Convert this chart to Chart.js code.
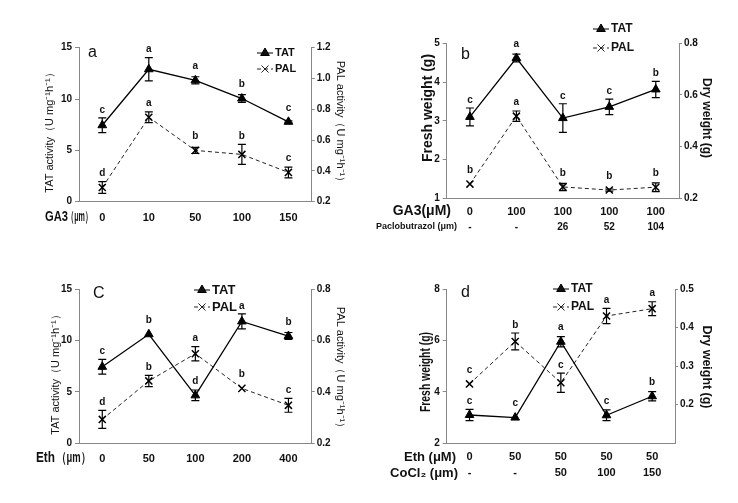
<!DOCTYPE html>
<html>
<head>
<meta charset="utf-8">
<script src="https://cdn.jsdelivr.net/npm/chart.js@4.4.1/dist/chart.umd.min.js"></script>
<style>
  body { margin: 0; background: #fff; width: 738px; height: 503px; overflow: hidden; position: relative; }
  canvas { position: absolute; }
</style>
</head>
<body>
<canvas id="chartA" width="369" height="250" style="left:0;top:0"></canvas>
<canvas id="chartB" width="369" height="250" style="left:369px;top:0"></canvas>
<canvas id="chartC" width="369" height="253" style="left:0;top:250px"></canvas>
<canvas id="chartD" width="369" height="253" style="left:369px;top:250px"></canvas>
<script>
// ---- panel a : GA3 ----
const catsA = ['0', '10', '50', '100', '150'];
const tatA = [7.45, 12.9, 11.82, 10.05, 7.78];
const tatErrA = [0.72, 1.13, 0.35, 0.38, 0.1];
const tatSigA = ['c', 'a', 'a', 'b', 'c'];
const palA = [0.292, 0.748, 0.533, 0.507, 0.39];
const palErrA = [0.038, 0.035, 0.02, 0.065, 0.035];
const palSigA = ['d', 'a', 'b', 'b', 'c'];

// ---- panel b : GA3 + paclobutrazol ----
const catsB = ['0', '100', '100', '100', '100'];
const pacloB = ['-', '-', '26', '52', '104'];
const tatB = [3.1, 4.62, 3.07, 3.36, 3.81];
const tatErrB = [0.23, 0.1, 0.37, 0.2, 0.21];
const tatSigB = ['c', 'a', 'c', 'c', 'b'];
const palB = [0.255, 0.518, 0.244, 0.232, 0.243];
const palErrB = [0, 0.02, 0.014, 0.004, 0.017];
const palSigB = ['b', 'a', 'b', 'b', 'b'];

// ---- panel c : Eth ----
const catsC = ['0', '50', '100', '200', '400'];
const tatC = [7.45, 10.62, 4.67, 11.87, 10.45];
const tatErrC = [0.72, 0, 0.52, 0.73, 0.34];
const tatSigC = ['c', 'b', 'd', 'a', 'b'];
const palC = [0.293, 0.443, 0.549, 0.414, 0.348];
const palErrC = [0.035, 0.022, 0.028, 0, 0.027];
const palSigC = ['d', 'b', 'a', 'b', 'c'];

// ---- panel d : Eth + CoCl2 ----
const catsD = ['0', '50', '50', '50', '50'];
const coclD = ['-', '-', '50', '100', '150'];
const tatD = [3.1, 3.0, 5.95, 3.09, 3.83];
const tatErrD = [0.22, 0, 0.2, 0.21, 0.18];
const tatSigD = ['c', 'c', 'a', 'c', 'b'];
const palD = [0.254, 0.364, 0.257, 0.43, 0.449];
const palErrD = [0, 0.022, 0.025, 0.02, 0.018];
const palSigD = ['c', 'b', 'c', 'a', 'a'];

const FONT = '"Liberation Sans", Arial, sans-serif';
const AXIS = '#888';
const INK = '#111';

function extras(p) {
  return {
    id: 'extras',
    afterDatasetsDraw(chart) {
      const ctx = chart.ctx;
      const xs = chart.scales.x;
      chart.data.datasets.forEach(ds => {
        const ys = chart.scales[ds.yAxisID];
        ctx.save();
        ctx.strokeStyle = '#000';
        ctx.lineWidth = 1.2;
        ds.data.forEach((v, i) => {
          const x = xs.getPixelForValue(i);
          const e = ds.errors[i];
          let top = ys.getPixelForValue(v) - 6;
          if (e > 0) {
            const y1 = ys.getPixelForValue(v + e);
            const y2 = ys.getPixelForValue(v - e);
            ctx.beginPath();
            ctx.moveTo(x, y1); ctx.lineTo(x, y2);
            ctx.moveTo(x - 4, y1); ctx.lineTo(x + 4, y1);
            ctx.moveTo(x - 4, y2); ctx.lineTo(x + 4, y2);
            ctx.stroke();
            top = Math.min(top, y1);
          }
          ctx.fillStyle = INK;
          ctx.font = 'bold 10px ' + FONT;
          ctx.textAlign = 'center';
          ctx.textBaseline = 'bottom';
          ctx.fillText(ds.sig[i], x, top - 3);
        });
        ctx.restore();
      });
    },
    afterDraw(chart) {
      const ctx = chart.ctx;
      ctx.save();
      ctx.fillStyle = INK;
      // panel letter
      ctx.font = '16px ' + FONT;
      ctx.textAlign = 'left';
      ctx.textBaseline = 'middle';
      ctx.fillText(p.panel, p.panelPos[0], p.panelPos[1]);

      // legend
      const lg = p.legend;
      chart.data.datasets.forEach((ds, i) => {
        const y = lg.y[i];
        ctx.save();
        ctx.strokeStyle = ds.borderColor;
        ctx.lineWidth = 1;
        ctx.setLineDash(ds.borderDash || []);
        ctx.beginPath();
        ctx.moveTo(lg.x - 8, y); ctx.lineTo(lg.x + 8, y);
        ctx.stroke();
        ctx.setLineDash([]);
        Chart.helpers.drawPoint(ctx, {
          pointStyle: ds.pointStyle, radius: 5, rotation: 0,
          borderWidth: ds.pointBorderWidth || 1
        }, lg.x, y);
        ctx.restore();
        ctx.font = lg.font;
        ctx.textAlign = 'left';
        ctx.textBaseline = 'middle';
        ctx.fillText(ds.label, lg.x + 10, y);
      });

      // axis titles
      p.yTitles.forEach(t => {
        ctx.save();
        ctx.translate(t.x, t.y);
        ctx.rotate(t.rot);
        ctx.font = t.font;
        ctx.textAlign = 'center';
        ctx.textBaseline = 'middle';
        if (t.maxW) ctx.fillText(t.text, 0, 0, t.maxW); else ctx.fillText(t.text, 0, 0);
        ctx.restore();
      });
      p.xTitles.forEach(t => {
        ctx.font = t.font;
        ctx.textAlign = t.align;
        ctx.textBaseline = 'middle';
        if (t.maxW) ctx.fillText(t.text, t.x, t.y, t.maxW); else ctx.fillText(t.text, t.x, t.y);
      });

      // second row of x labels
      if (p.row2) {
        const xs = chart.scales.x;
        ctx.font = p.row2.font;
        ctx.textAlign = 'center';
        ctx.textBaseline = 'middle';
        p.row2.labels.forEach((l, i) => ctx.fillText(l, xs.getPixelForValue(i), p.row2.y));
      }
      ctx.restore();
    }
  };
}

function makePanel(id, p) {
  const canvas = document.getElementById(id);
  const W = canvas.width, H = canvas.height;
  const tickFont = { family: FONT, size: 10, weight: 'bold' };
  return new Chart(canvas, {
    type: 'line',
    data: {
      labels: p.cats,
      datasets: [{
        label: 'TAT', data: p.tat, errors: p.tatErr, sig: p.tatSig, yAxisID: 'y',
        borderColor: '#000', borderWidth: 1.3, tension: 0,
        pointStyle: 'triangle', pointRadius: 5,
        pointBackgroundColor: '#000', pointBorderColor: '#000', pointBorderWidth: 1
      }, {
        label: 'PAL', data: p.pal, errors: p.palErr, sig: p.palSig, yAxisID: 'y2',
        borderColor: '#222', borderWidth: 1, borderDash: [4, 3], tension: 0,
        pointStyle: 'crossRot', pointRadius: 5,
        pointBackgroundColor: '#000', pointBorderColor: '#000', pointBorderWidth: 1.5
      }]
    },
    options: {
      responsive: false,
      animation: false,
      devicePixelRatio: 1,
      layout: { padding: { top: p.area.top, left: 0, right: 0, bottom: 0 } },
      plugins: { legend: { display: false }, tooltip: { enabled: false } },
      scales: {
        x: {
          type: 'category', offset: true,
          grid: { display: false, drawTicks: false },
          border: { color: AXIS },
          ticks: { font: p.xFont, color: INK, padding: p.xPad, maxRotation: 0, autoSkip: false },
          afterFit: s => { s.height = H - p.area.bottom; }
        },
        y: {
          position: 'left', min: p.yl.min, max: p.yl.max,
          ticks: { stepSize: p.yl.step, font: tickFont, color: INK, padding: 3 },
          grid: { drawOnChartArea: false, tickLength: 4, color: AXIS },
          border: { color: AXIS },
          afterFit: s => { s.width = p.area.left; }
        },
        y2: {
          position: 'right', min: p.yr.min, max: p.yr.max,
          ticks: {
            stepSize: p.yr.step, font: tickFont, color: INK, padding: 2,
            callback: v => (p.yr.hide !== undefined && Math.abs(v - p.yr.hide) < 1e-6) ? '' : v.toFixed(1)
          },
          grid: {
            drawOnChartArea: false, tickLength: 3,
            color: c => (p.yr.hide !== undefined && c.tick && Math.abs(c.tick.value - p.yr.hide) < 1e-6) ? 'rgba(0,0,0,0)' : AXIS
          },
          border: { color: AXIS },
          afterFit: s => { s.width = W - p.area.right; }
        }
      }
    },
    plugins: [extras(p)]
  });
}

const activityTitle = 'activity\uFF08U mg\u207B\u00B9h\u207B\u00B9\uFF09';

makePanel('chartA', {
  cats: catsA, tat: tatA, tatErr: tatErrA, tatSig: tatSigA, pal: palA, palErr: palErrA, palSig: palSigA,
  area: { left: 79, right: 311.7, top: 47.7, bottom: 201.7 },
  yl: { min: 0, max: 15, step: 5 }, yr: { min: 0.2, max: 1.2, step: 0.2 },
  xFont: { family: FONT, size: 11, weight: 'bold' }, xPad: 10,
  panel: 'a', panelPos: [88, 53],
  legend: { x: 265, y: [53, 69], font: 'bold 11px ' + FONT },
  yTitles: [
    { text: 'TAT ' + activityTitle, x: 50, y: 130, rot: -Math.PI / 2, font: '11px ' + FONT },
    { text: 'PAL ' + activityTitle, x: 340, y: 124, rot: Math.PI / 2, font: '11px ' + FONT }
  ],
  xTitles: [
    { text: 'GA3', x: 45, y: 217, align: 'left', font: 'bold 14px ' + FONT, maxW: 23 },
    { text: '\uFF08\u03BCm\uFF09', x: 67, y: 217, align: 'left', font: 'bold 14px ' + FONT, maxW: 25 }
  ]
});

makePanel('chartB', {
  cats: catsB, tat: tatB, tatErr: tatErrB, tatSig: tatSigB, pal: palB, palErr: palErrB, palSig: palSigB,
  area: { left: 77.7, right: 310, top: 43.3, bottom: 198.3 },
  yl: { min: 1, max: 5, step: 1 }, yr: { min: 0.2, max: 0.8, step: 0.2 },
  xFont: { family: FONT, size: 11, weight: 'bold' }, xPad: 7,
  panel: 'b', panelPos: [92, 55],
  legend: { x: 232, y: [29, 48], font: 'bold 12px ' + FONT },
  yTitles: [
    { text: 'Fresh weight (g)', x: 59, y: 108, rot: -Math.PI / 2, font: 'bold 14px ' + FONT },
    { text: 'Dry weight (g)', x: 338, y: 118, rot: Math.PI / 2, font: 'bold 13px ' + FONT, maxW: 80 }
  ],
  xTitles: [
    { text: 'GA3(\u03BCM)', x: 82, y: 211, align: 'right', font: 'bold 14px ' + FONT },
    { text: 'Paclobutrazol (\u03BCm)', x: 88, y: 227, align: 'right', font: 'bold 9px ' + FONT }
  ],
  row2: { labels: pacloB, y: 227, font: 'bold 10px ' + FONT }
});

makePanel('chartC', {
  cats: catsC, tat: tatC, tatErr: tatErrC, tatSig: tatSigC, pal: palC, palErr: palErrC, palSig: palSigC,
  area: { left: 79, right: 311.7, top: 39.3, bottom: 193.3 },
  yl: { min: 0, max: 15, step: 5 }, yr: { min: 0.2, max: 0.8, step: 0.2 },
  xFont: { family: FONT, size: 11, weight: 'bold' }, xPad: 9,
  panel: 'C', panelPos: [93, 44],
  legend: { x: 202, y: [40, 57], font: 'bold 13px ' + FONT },
  yTitles: [
    { text: 'TAT ' + activityTitle, x: 56, y: 122, rot: -Math.PI / 2, font: '11px ' + FONT },
    { text: 'PAL ' + activityTitle, x: 340, y: 120, rot: Math.PI / 2, font: '11px ' + FONT }
  ],
  xTitles: [
    { text: 'Eth', x: 36, y: 208, align: 'left', font: 'bold 14px ' + FONT, maxW: 19 },
    { text: '\uFF08\u03BCm\uFF09', x: 57, y: 208, align: 'left', font: 'bold 14px ' + FONT, maxW: 33 }
  ]
});

makePanel('chartD', {
  cats: catsD, tat: tatD, tatErr: tatErrD, tatSig: tatSigD, pal: palD, palErr: palErrD, palSig: palSigD,
  area: { left: 77.7, right: 306, top: 39, bottom: 193.3 },
  yl: { min: 2, max: 8, step: 2 }, yr: { min: 0.1, max: 0.5, step: 0.1, hide: 0.1 },
  xFont: { family: FONT, size: 11, weight: 'bold' }, xPad: 7,
  panel: 'd', panelPos: [92, 43],
  legend: { x: 192, y: [39, 57], font: 'bold 12px ' + FONT },
  yTitles: [
    { text: 'Fresh weight (g)', x: 57, y: 122, rot: -Math.PI / 2, font: 'bold 14px ' + FONT, maxW: 80 },
    { text: 'Dry weight (g)', x: 338, y: 117, rot: Math.PI / 2, font: 'bold 13px ' + FONT, maxW: 83 }
  ],
  xTitles: [
    { text: 'Eth (\u03BCM)', x: 87, y: 207, align: 'right', font: 'bold 13px ' + FONT },
    { text: 'CoCl\u2082 (\u03BCm)', x: 89, y: 223, align: 'right', font: 'bold 13px ' + FONT }
  ],
  row2: { labels: coclD, y: 223, font: 'bold 11px ' + FONT }
});
</script>
</body>
</html>
